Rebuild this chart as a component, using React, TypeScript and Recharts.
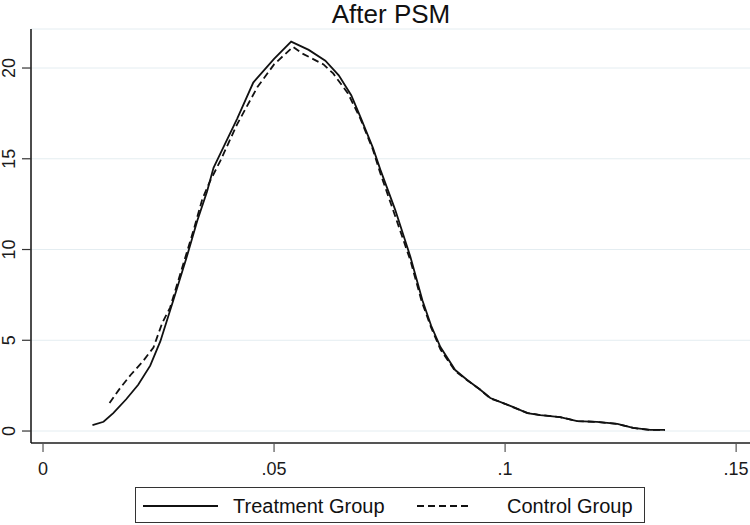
import { CartesianGrid, Line, LineChart, XAxis, YAxis } from "recharts";

// kernel density estimates, propensity score on x
const treatX = [
  0.0107, 0.0131, 0.0152, 0.018, 0.0206, 0.0232, 0.0254, 0.0282, 0.031, 0.0334,
  0.0355, 0.0369, 0.0384, 0.042, 0.0455, 0.05, 0.0537, 0.0575, 0.0611, 0.064,
  0.0667, 0.0687, 0.0714, 0.073, 0.0762, 0.0795, 0.0821, 0.084, 0.086, 0.0892,
  0.0918, 0.0945, 0.0968, 0.1, 0.1018, 0.1048, 0.1076, 0.1119, 0.1156, 0.1199,
  0.1243, 0.1277, 0.1314, 0.1346,
];
const treatY = [
  0.33, 0.51, 0.99, 1.75, 2.55, 3.6, 4.95, 7.2, 9.5, 11.6,
  13.2, 14.5, 15.3, 17.2, 19.2, 20.5, 21.45, 21.0, 20.4, 19.6,
  18.5, 17.3, 15.6, 14.4, 12.2, 9.6, 7.2, 5.8, 4.63, 3.36,
  2.81, 2.3, 1.82, 1.5, 1.32, 0.99, 0.88, 0.77, 0.55, 0.5,
  0.39, 0.17, 0.06, 0.06,
];

const controlX = [
  0.0144, 0.0167, 0.019, 0.0215, 0.0239, 0.0258, 0.0275, 0.03, 0.0325, 0.0345,
  0.0362, 0.0384, 0.042, 0.0464, 0.05, 0.0541, 0.0561, 0.0607, 0.0628, 0.066,
  0.0687, 0.0714, 0.073, 0.076, 0.0795, 0.082, 0.084, 0.086, 0.0892, 0.0918,
  0.0945, 0.0968, 0.1, 0.1018, 0.1048, 0.1076, 0.1119, 0.1156, 0.1199, 0.1243,
  0.1277, 0.1314, 0.1346,
];
const controlY = [
  1.54, 2.37, 3.1, 3.8, 4.6, 5.95, 6.8, 8.9, 11.0, 12.8,
  13.8, 14.9, 16.9, 18.95, 20.2, 21.17, 20.8, 20.2, 19.7, 18.6,
  17.2, 15.5, 14.2, 12.0, 9.4, 7.1, 5.7, 4.5, 3.3, 2.8,
  2.3, 1.8, 1.5, 1.3, 1.0, 0.88, 0.77, 0.55, 0.5, 0.39,
  0.17, 0.06, 0.06,
];

const xTicks = [0, 0.05, 0.1, 0.15];
const yTicks = [0, 5, 10, 15, 20];

const title = "After PSM";
const seriesNames = ["Treatment Group", "Control Group"];

const treatment = treatX.map((x, i) => ({ x, y: treatY[i] }));
const control = controlX.map((x, i) => ({ x, y: controlY[i] }));

const FONT = "'Liberation Sans', Arial, sans-serif";

const fmtX = (v: number) => (v === 0 ? "0" : String(v).replace(/^0/, ""));

// y labels run bottom-to-top, Stata style
function YTick(props: any) {
  const { y, payload } = props;
  const bx = 15;
  return (
    <text
      x={bx}
      y={y}
      transform={`rotate(-90 ${bx} ${y})`}
      textAnchor="middle"
      fontSize={18}
      fontFamily={FONT}
      fill="#1a1a1a"
    >
      {payload.value}
    </text>
  );
}

export default function App() {
  return (
    <div style={{ position: "absolute", left: 0, top: 0, width: 750, height: 525, background: "#fff" }}>
      <LineChart
        width={750}
        height={525}
        margin={{ top: 29, right: 0, left: 1, bottom: 52 }}
      >
        <CartesianGrid horizontal vertical={false} stroke="#e4edf1" strokeWidth={1} />
        <XAxis
          type="number"
          dataKey="x"
          domain={[-0.0026, 0.153]}
          ticks={xTicks}
          tickFormatter={fmtX}
          height={30}
          allowDataOverflow
          axisLine={{ stroke: "#555", strokeWidth: 2 }}
          tickLine={{ stroke: "#555", strokeWidth: 1.2 }}
          tickSize={9}
          tickMargin={10}
          tick={{ fontSize: 18, fontFamily: FONT, fill: "#1a1a1a" }}
        />
        <YAxis
          type="number"
          domain={[-0.66, 22.15]}
          ticks={yTicks}
          width={30}
          allowDataOverflow
          axisLine={{ stroke: "#111", strokeWidth: 1.5 }}
          tickLine={{ stroke: "#333", strokeWidth: 1.2 }}
          tickSize={9}
          tick={<YTick />}
        />
        <Line
          data={control}
          dataKey="y"
          type="linear"
          stroke="#111"
          strokeWidth={1.8}
          strokeDasharray="7 4"
          dot={false}
          isAnimationActive={false}
          name={seriesNames[1]}
        />
        <Line
          data={treatment}
          dataKey="y"
          type="linear"
          stroke="#111"
          strokeWidth={1.8}
          dot={false}
          isAnimationActive={false}
          name={seriesNames[0]}
        />
      </LineChart>
      <svg
        width={750}
        height={525}
        style={{ position: "absolute", left: 0, top: 0, pointerEvents: "none" }}
        fontFamily={FONT}
      >
        <text x={391} y={23} textAnchor="middle" fontSize={26} fill="#111">
          {title}
        </text>
        <rect x={135.5} y={487.5} width={509} height={35} fill="#fff" stroke="#333" strokeWidth={1} />
        <line x1={143} x2={218} y1={506} y2={506} stroke="#111" strokeWidth={1.8} />
        <text x={233} y={513} fontSize={20} fill="#111">
          {seriesNames[0]}
        </text>
        <line x1={417} x2={470} y1={506} y2={506} stroke="#111" strokeWidth={1.8} strokeDasharray="7 4" />
        <text x={507} y={513} fontSize={20} fill="#111">
          {seriesNames[1]}
        </text>
      </svg>
    </div>
  );
}
